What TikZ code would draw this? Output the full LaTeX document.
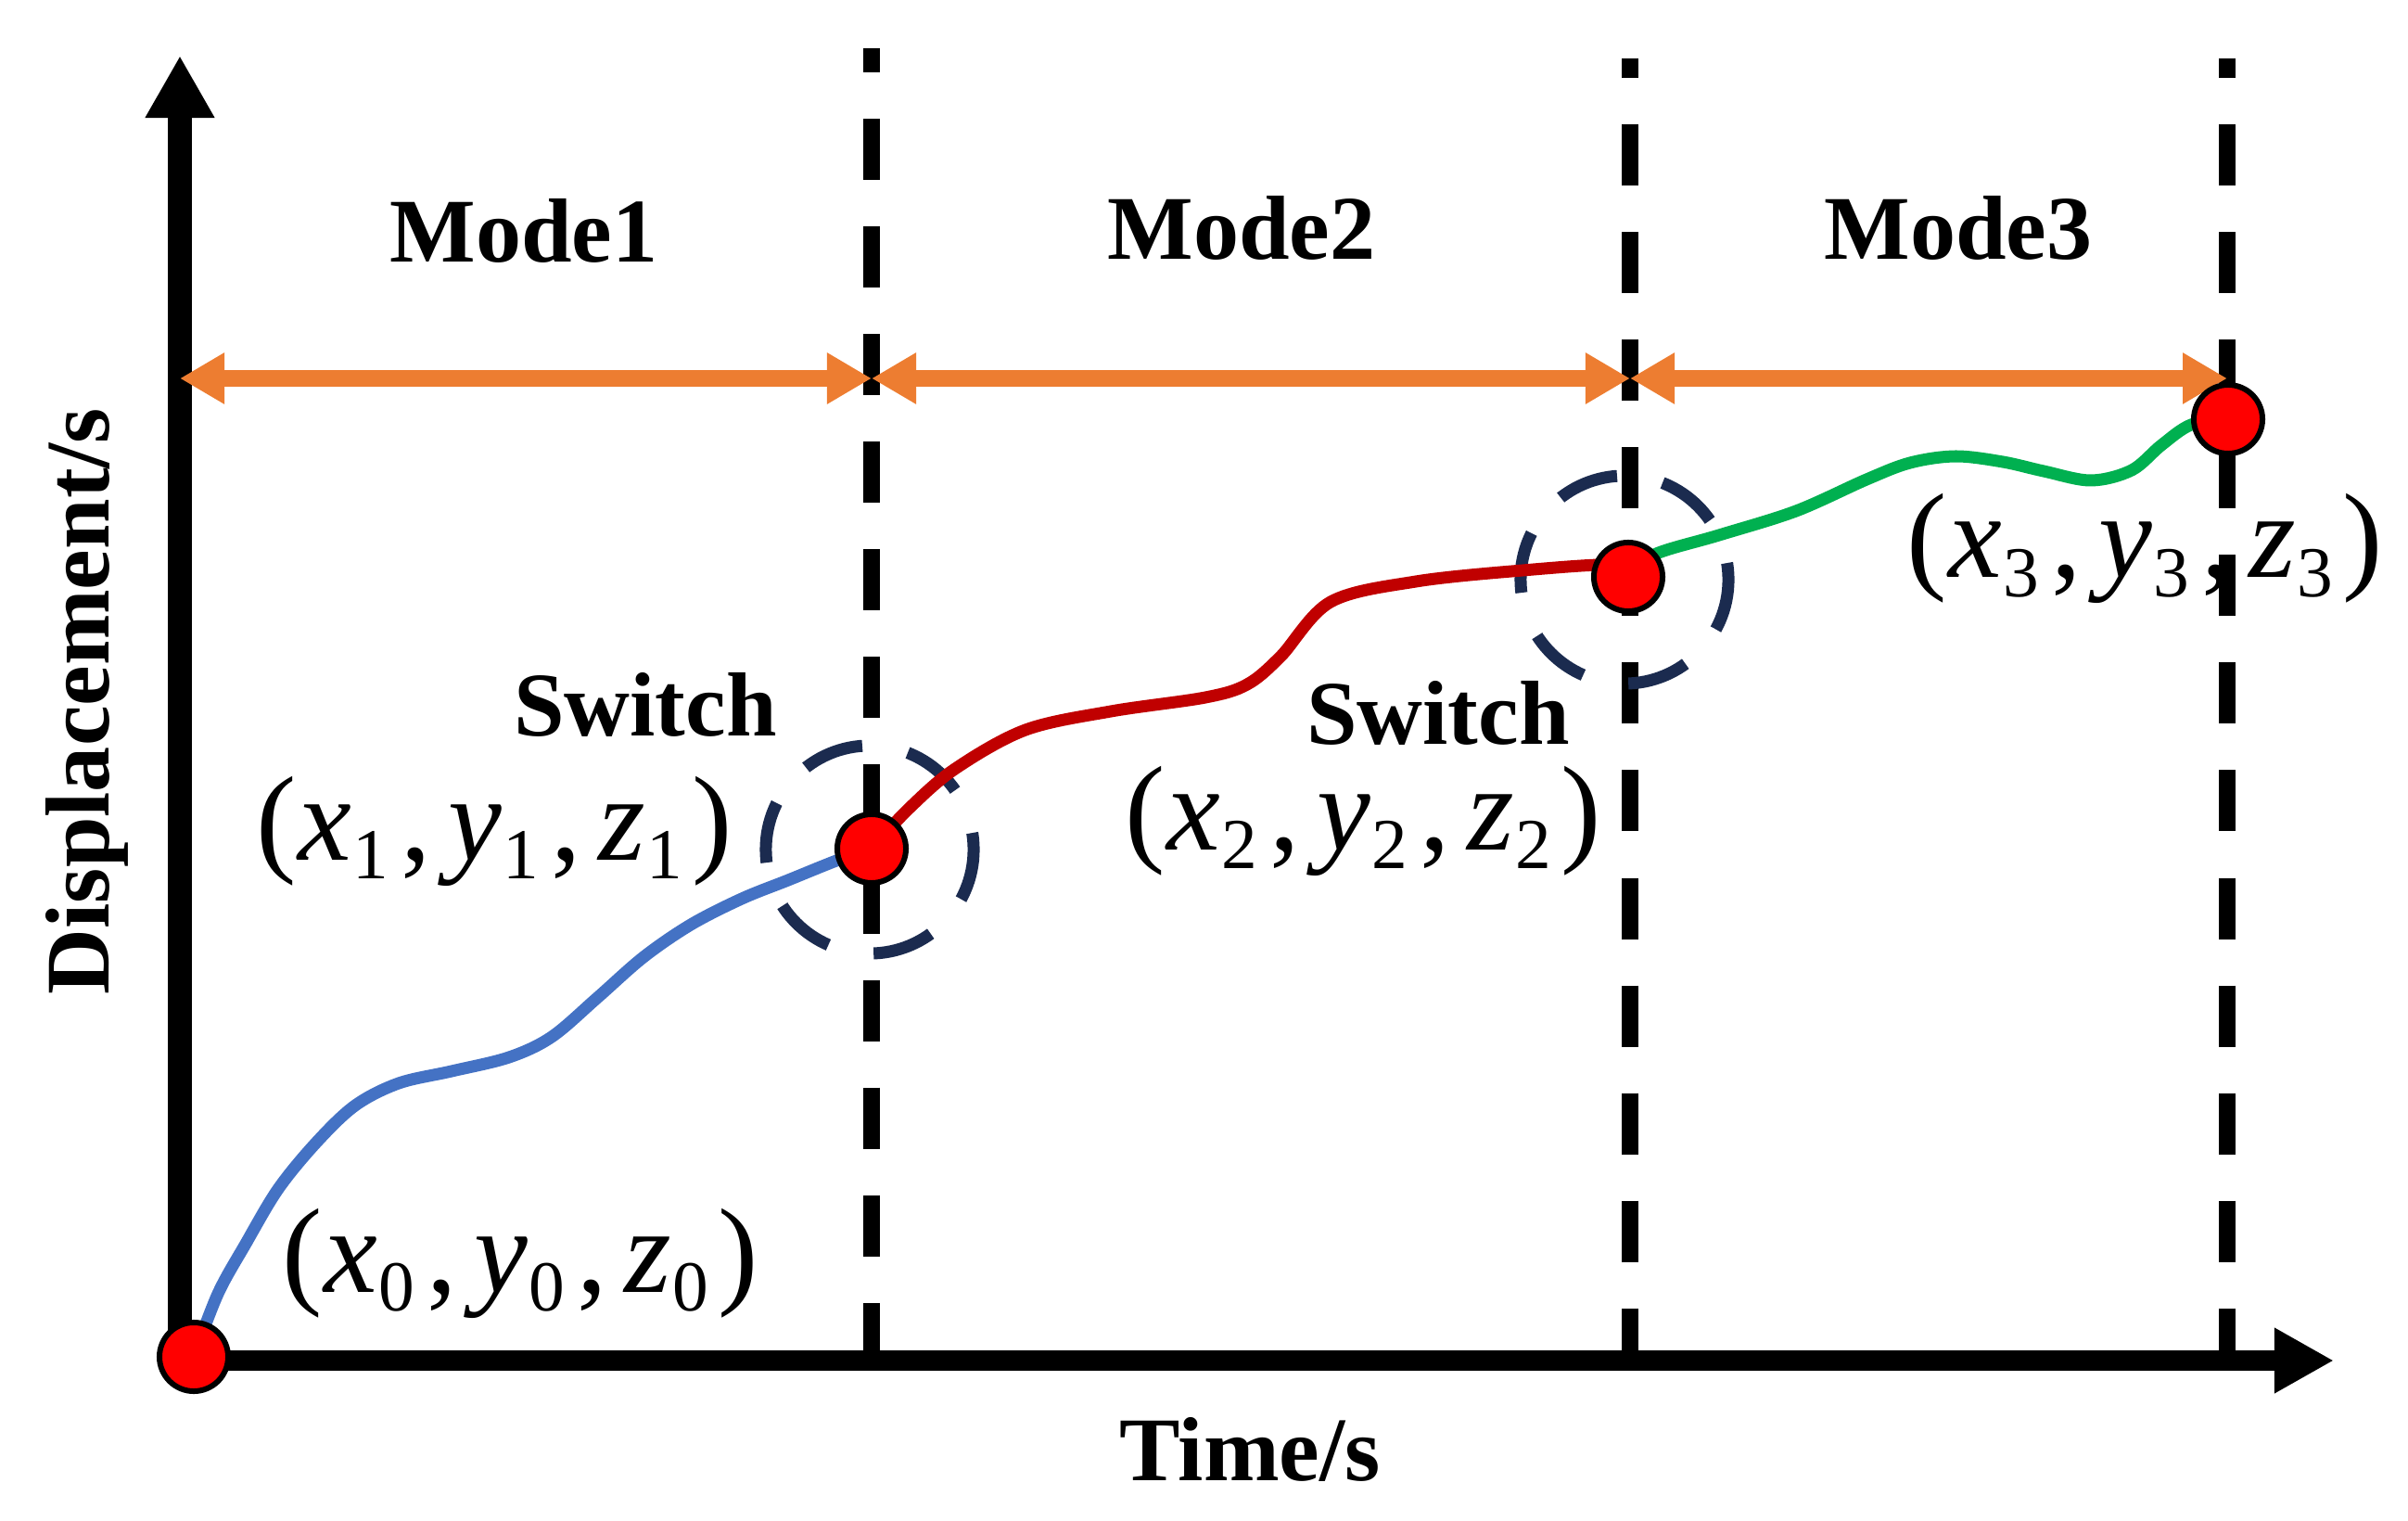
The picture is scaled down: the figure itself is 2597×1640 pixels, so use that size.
\documentclass[tikz,border=0pt]{standalone}
\usepackage{fontspec}
\setmainfont{Liberation Serif}
\usetikzlibrary{arrows.meta}
\definecolor{cblue}{HTML}{4472C4}
\definecolor{cred}{HTML}{C00000}
\definecolor{cgreen}{HTML}{00B050}
\definecolor{corange}{HTML}{ED7D31}
\definecolor{cnavy}{HTML}{1B2B4F}
\newcommand\mysbs[1]{\raisebox{-0.2cm}{\fontsize{22}{22}\selectfont #1}}
\newcommand\mypnt[1]{{\fontsize{37}{37}\selectfont (\hspace{0.02cm}\textit{x}\hspace{0.01cm}\mysbs{#1}\hspace{0.13cm},\hspace{0.19cm}\textit{y}\hspace{0.01cm}\mysbs{#1}\hspace{0.13cm},\hspace{0.19cm}\textit{z}\hspace{0.01cm}\mysbs{#1}\hspace{0.1cm})}}
\begin{document}
\begin{tikzpicture}[x=0.01cm,y=-0.01cm,
  lbl/.style={font=\fontsize{27.9}{30}\selectfont\bfseries, inner sep=0pt, anchor=base},
  ptlbl/.style={inner sep=0pt, anchor=base},
  vdash/.style={line width=0.18cm, dash pattern=on 0.66cm off 0.5cm},
  swc/.style={circle, draw=cnavy, line width=0.13cm, minimum size=2.24cm, inner sep=0pt, dash pattern=on 0.66cm off 0.5cm, dash phase=0.48cm},
  curve/.style={line width=0.13cm, line cap=round, line join=round},
  span/.style={corange, line width=0.18cm, {Triangle[length=0.48cm,width=0.52cm]}-{Triangle[length=0.48cm,width=0.52cm]}},
  dot/.style={circle, fill=red, draw=black, line width=0.06cm, minimum size=0.74cm, inner sep=0pt}
]
\useasboundingbox (0,0) rectangle (2597,1640);

% coordinates
\coordinate (p0) at (209,1463);
\coordinate (p1) at (940,915);
\coordinate (p2) at (1756,622);
\coordinate (p3) at (2403,452);
\coordinate (ybot) at (194,1478);
\coordinate (ytip) at (194,60);
\coordinate (xl) at (181,1467);
\coordinate (xtip) at (2517,1467);
\coordinate (t1) at (940,52);
\coordinate (b1) at (940,1457);
\coordinate (t2) at (1758,63);
\coordinate (b2) at (1758,1457);
\coordinate (t3) at (2402,63);
\coordinate (b3) at (2402,1457);
\coordinate (a0) at (194,408);
\coordinate (a1) at (940,408);
\coordinate (a2) at (1758,408);
\coordinate (a3) at (2402,408);

% texts
\node[lbl] (m1) at (565,283) {Mode1};
\node[lbl] (m2) at (1339,280) {Mode2};
\node[lbl] (m3) at (2112,280) {Mode3};
\node[lbl] (s1) at (696,794) {Switch};
\node[lbl] (s2) at (1551,802) {Switch};
\node[lbl] (tl) at (1348,1596) {Time/s};
\node[lbl, rotate=90] (dl) at (117,756) {Displacement/s};
\node[ptlbl] (c0) at (561,1393) {\mypnt{0}};
\node[ptlbl] (c1) at (533,927) {\mypnt{1}};
\node[ptlbl] (c2) at (1470,916) {\mypnt{2}};
\node[ptlbl] (c3) at (2313,623) {\mypnt{3}};

% dashed verticals
\draw[vdash, dash phase=0.40cm] (t1) -- (b1);
\draw[vdash, dash phase=0.45cm] (t2) -- (b2);
\draw[vdash, dash phase=0.45cm] (t3) -- (b3);

% axes
\draw[line width=0.26cm, -{Triangle[length=0.67cm,width=0.70cm]}] (ybot) -- (ytip);
\draw[line width=0.22cm, -{Triangle[length=0.64cm,width=0.66cm]}] (xl) -- (xtip);

% mode spans
\draw[span] (a0) -- (a1);
\draw[span] (a1) -- (a2);
\draw[span] (a2) -- (a3);

% switch circles
\node[swc] (sw1) at (938,916) {};
\node[swc] (sw2) at (1752,625) {};

% curves
\draw[curve, cblue] plot[smooth, tension=0.55] coordinates {(p0) (235,1395) (265,1341) (300,1282) (341,1232) (383,1192) (430,1168) (487,1155) (549,1140) (595,1118) (644,1076) (694,1032) (745,997) (800,969) (850,949) (902,928) (p1)};
\draw[curve, cred] plot[smooth, tension=0.55] coordinates {(p1) (980,872) (1030,829) (1106,787) (1198,767) (1300,752) (1345,738) (1381,708) (1435,649) (1527,627) (1642,615) (1740,609) (p2)};
\draw[curve, cgreen] plot[smooth, tension=0.55] coordinates {(p2) (1784,598) (1854,577) (1937,551) (2013,517) (2060,499) (2109,492) (2160,498) (2204,508) (2255,518) (2299,507) (2331,480) (2363,458) (p3)};

% dots
\node[dot] (d0) at (p0) {};
\node[dot] (d1) at (p1) {};
\node[dot] (d2) at (p2) {};
\node[dot] (d3) at (p3) {};
\end{tikzpicture}
\end{document}
